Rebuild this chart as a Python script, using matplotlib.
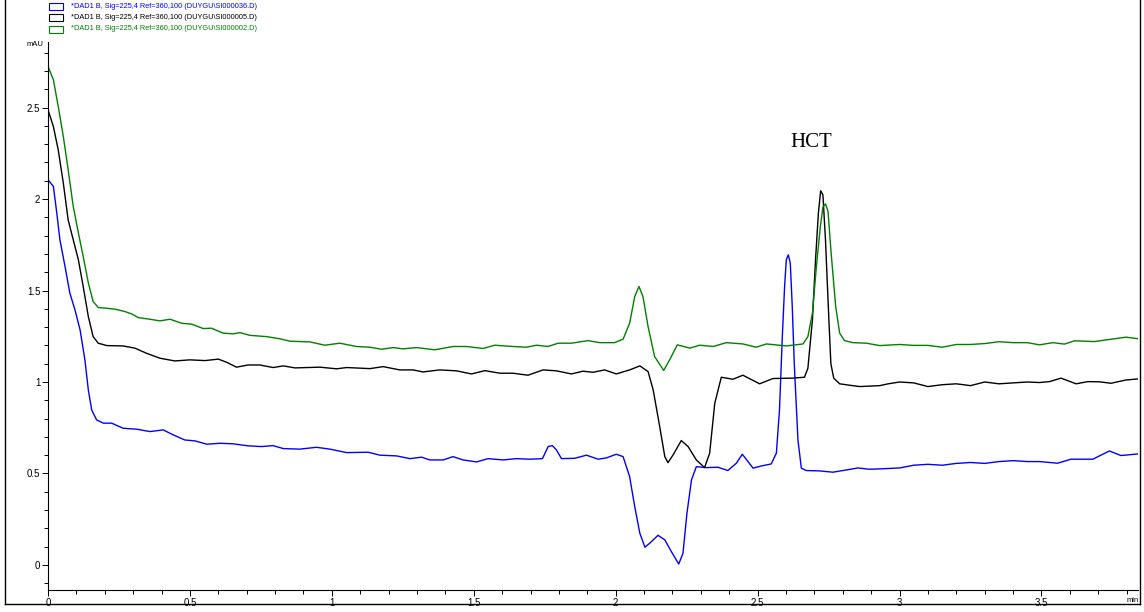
import numpy as np
import matplotlib
matplotlib.use('Agg')
import matplotlib.pyplot as plt
from matplotlib.lines import Line2D
from matplotlib.patches import Rectangle

# chromatogram traces: (time min, signal mAU)
blue_trace = [
    (0.000, 2.105), (0.019, 2.069), (0.031, 1.923), (0.042, 1.777), (0.060, 1.631),
    (0.077, 1.486), (0.095, 1.394), (0.113, 1.285), (0.130, 1.121), (0.142, 0.957),
    (0.154, 0.847), (0.171, 0.793), (0.195, 0.775), (0.224, 0.775), (0.265, 0.747),
    (0.312, 0.742), (0.359, 0.729), (0.406, 0.738), (0.441, 0.711), (0.482, 0.683),
    (0.518, 0.678), (0.559, 0.660), (0.606, 0.665), (0.652, 0.662), (0.705, 0.651),
    (0.752, 0.647), (0.793, 0.652), (0.829, 0.636), (0.887, 0.633), (0.946, 0.643),
    (0.993, 0.633), (1.052, 0.614), (1.128, 0.616), (1.169, 0.600), (1.228, 0.596),
    (1.275, 0.581), (1.316, 0.589), (1.345, 0.574), (1.392, 0.574), (1.427, 0.592),
    (1.462, 0.574), (1.510, 0.563), (1.550, 0.581), (1.603, 0.574), (1.650, 0.581),
    (1.697, 0.578), (1.742, 0.581), (1.762, 0.647), (1.777, 0.652), (1.791, 0.629),
    (1.809, 0.581), (1.856, 0.583), (1.897, 0.600), (1.938, 0.578), (1.967, 0.585),
    (2.002, 0.605), (2.026, 0.592), (2.049, 0.483), (2.067, 0.319), (2.085, 0.173),
    (2.103, 0.097), (2.120, 0.119), (2.149, 0.162), (2.173, 0.137), (2.196, 0.073),
    (2.222, 0.005), (2.237, 0.064), (2.251, 0.283), (2.267, 0.465), (2.284, 0.537),
    (2.319, 0.532), (2.360, 0.534), (2.395, 0.516), (2.425, 0.556), (2.446, 0.605),
    (2.466, 0.565), (2.484, 0.529), (2.513, 0.541), (2.548, 0.552), (2.566, 0.611),
    (2.577, 0.847), (2.587, 1.250), (2.595, 1.522), (2.601, 1.668), (2.608, 1.695),
    (2.615, 1.650), (2.622, 1.412), (2.629, 1.103), (2.642, 0.683), (2.654, 0.529),
    (2.671, 0.516), (2.718, 0.514), (2.765, 0.507), (2.812, 0.519), (2.853, 0.530),
    (2.894, 0.523), (2.930, 0.525), (3.000, 0.530), (3.050, 0.545), (3.100, 0.550),
    (3.150, 0.545), (3.200, 0.555), (3.250, 0.560), (3.300, 0.555), (3.350, 0.565),
    (3.400, 0.570), (3.450, 0.565), (3.493, 0.565), (3.557, 0.556), (3.604, 0.578),
    (3.681, 0.578), (3.739, 0.623), (3.780, 0.598), (3.842, 0.607),
]

black_trace = [
    (0.000, 2.488), (0.019, 2.396), (0.036, 2.269), (0.054, 2.087), (0.071, 1.886),
    (0.089, 1.777), (0.107, 1.668), (0.124, 1.522), (0.142, 1.358), (0.159, 1.248),
    (0.177, 1.212), (0.207, 1.199), (0.265, 1.197), (0.306, 1.185), (0.347, 1.157),
    (0.394, 1.130), (0.447, 1.115), (0.500, 1.121), (0.553, 1.117), (0.600, 1.125),
    (0.629, 1.108), (0.664, 1.081), (0.705, 1.093), (0.746, 1.093), (0.793, 1.079),
    (0.829, 1.088), (0.870, 1.077), (0.958, 1.081), (1.017, 1.072), (1.052, 1.079),
    (1.134, 1.073), (1.181, 1.084), (1.239, 1.066), (1.286, 1.066), (1.321, 1.055),
    (1.380, 1.066), (1.439, 1.061), (1.492, 1.044), (1.539, 1.062), (1.592, 1.048),
    (1.638, 1.048), (1.691, 1.037), (1.744, 1.066), (1.791, 1.061), (1.844, 1.044),
    (1.885, 1.059), (1.920, 1.053), (1.961, 1.066), (2.002, 1.044), (2.049, 1.066),
    (2.085, 1.088), (2.114, 1.057), (2.132, 0.957), (2.155, 0.756), (2.173, 0.592),
    (2.184, 0.559), (2.202, 0.601), (2.231, 0.680), (2.255, 0.647), (2.284, 0.574),
    (2.313, 0.532), (2.331, 0.611), (2.349, 0.884), (2.372, 1.026), (2.413, 1.015),
    (2.448, 1.037), (2.507, 0.990), (2.554, 1.019), (2.624, 1.021), (2.665, 1.026),
    (2.677, 1.075), (2.693, 1.340), (2.704, 1.668), (2.714, 1.923), (2.722, 2.045),
    (2.730, 2.023), (2.739, 1.777), (2.751, 1.340), (2.758, 1.100), (2.768, 1.021),
    (2.789, 0.990), (2.825, 0.982), (2.860, 0.975), (2.930, 0.980), (2.960, 0.990),
    (3.000, 1.000), (3.050, 0.995), (3.100, 0.975), (3.150, 0.985), (3.200, 0.990),
    (3.250, 0.980), (3.300, 1.000), (3.350, 0.990), (3.400, 0.995), (3.450, 1.000),
    (3.493, 0.997), (3.528, 1.002), (3.569, 1.021), (3.622, 0.990), (3.663, 1.002),
    (3.704, 1.001), (3.745, 0.993), (3.798, 1.011), (3.842, 1.017),
]

green_trace = [
    (0.000, 2.725), (0.019, 2.652), (0.036, 2.506), (0.054, 2.342), (0.071, 2.160),
    (0.089, 1.959), (0.107, 1.815), (0.124, 1.686), (0.142, 1.542), (0.159, 1.440),
    (0.177, 1.407), (0.207, 1.403), (0.236, 1.398), (0.271, 1.385), (0.295, 1.372),
    (0.318, 1.352), (0.359, 1.343), (0.394, 1.334), (0.430, 1.343), (0.471, 1.321),
    (0.506, 1.316), (0.547, 1.292), (0.576, 1.294), (0.617, 1.267), (0.653, 1.263),
    (0.676, 1.270), (0.711, 1.255), (0.770, 1.248), (0.817, 1.236), (0.852, 1.223),
    (0.923, 1.219), (0.975, 1.201), (1.028, 1.212), (1.087, 1.194), (1.134, 1.190),
    (1.175, 1.179), (1.216, 1.188), (1.251, 1.181), (1.298, 1.188), (1.363, 1.176),
    (1.427, 1.194), (1.474, 1.194), (1.533, 1.183), (1.574, 1.201), (1.638, 1.194),
    (1.686, 1.190), (1.721, 1.201), (1.762, 1.194), (1.797, 1.212), (1.844, 1.212),
    (1.902, 1.226), (1.944, 1.215), (1.996, 1.215), (2.026, 1.234), (2.049, 1.321),
    (2.067, 1.467), (2.082, 1.522), (2.096, 1.467), (2.114, 1.303), (2.137, 1.139),
    (2.169, 1.063), (2.190, 1.121), (2.217, 1.203), (2.261, 1.185), (2.296, 1.201),
    (2.343, 1.194), (2.390, 1.215), (2.448, 1.208), (2.495, 1.190), (2.531, 1.208),
    (2.601, 1.197), (2.660, 1.208), (2.677, 1.248), (2.693, 1.376), (2.707, 1.631),
    (2.721, 1.850), (2.730, 1.956), (2.739, 1.974), (2.748, 1.932), (2.759, 1.704),
    (2.775, 1.412), (2.789, 1.267), (2.806, 1.226), (2.836, 1.215), (2.883, 1.212),
    (2.930, 1.199), (3.000, 1.205), (3.050, 1.200), (3.100, 1.200), (3.150, 1.190),
    (3.200, 1.205), (3.250, 1.205), (3.300, 1.210), (3.350, 1.220), (3.400, 1.215),
    (3.450, 1.215), (3.493, 1.203), (3.540, 1.215), (3.581, 1.207), (3.616, 1.225),
    (3.687, 1.221), (3.728, 1.230), (3.798, 1.245), (3.842, 1.236),
]

trace_labels = [
    '*DAD1 B, Sig=225,4 Ref=360,100 (DUYGU\\SI000036.D)',
    '*DAD1 B, Sig=225,4 Ref=360,100 (DUYGU\\SI000005.D)',
    '*DAD1 B, Sig=225,4 Ref=360,100 (DUYGU\\SI000002.D)',
]
trace_colors = ['#0000ff', '#000000', '#008000']

peak_name = 'HCT'
peak_pos = (2.69, 2.31)

x_major = [0, 0.5, 1, 1.5, 2, 2.5, 3, 3.5]
x_labels = ['0', '0.5', '1', '1.5', '2', '2.5', '3', '3.5']
y_major = [0, 0.5, 1, 1.5, 2, 2.5]
y_labels = ['0', '0.5', '1', '1.5', '2', '2.5']

W, H = 1144, 612
plt.rcParams['font.family'] = ['Liberation Sans']

fig = plt.figure(figsize=(W / 100, H / 100), dpi=100)
ax = fig.add_axes([48 / W, 1 - 590 / H, (1138 - 48) / W, (590 - 41.7) / H])

for trace, color in zip([blue_trace, black_trace, green_trace], trace_colors):
    t, y = np.array(trace).T
    ax.plot(t, y, color=color, lw=1.0)

ax.set_xlim(0, 3.84)
ax.set_ylim(-0.137, 2.86)
ax.set_xticks(x_major)
ax.set_xticklabels(x_labels)
ax.set_yticks(y_major)
ax.set_yticklabels(y_labels)
ax.set_xticks(np.arange(0.1, 3.84, 0.1), minor=True)
ax.set_yticks(np.arange(-0.1, 2.86, 0.1), minor=True)
ax.tick_params(which='both', direction='out', width=0.7, labelsize=7, colors='black')
ax.tick_params(which='major', length=4, pad=1.5)
ax.tick_params(which='minor', length=3)
for side in ['top', 'right']:
    ax.spines[side].set_visible(False)
for side in ['left', 'bottom']:
    ax.spines[side].set_linewidth(0.8)

ax.text(peak_pos[0], peak_pos[1], peak_name, family='Liberation Serif',
        fontsize=15, ha='center', va='center')
fig.text(43 / W, 1 - 45 / H, 'mAU', fontsize=5.5, ha='right', va='center')
fig.text(1139 / W, 1 - 601 / H, 'min', fontsize=5.5, ha='right', va='center')

# legend in the top left corner
rows = [6.5, 17.5, 29]
for row, label, color in zip(rows, trace_labels, trace_colors):
    fig.patches.append(Rectangle((49 / W, 1 - (row + 3.5) / H), 14 / W, 7 / H,
                                 transform=fig.transFigure, fill=False,
                                 edgecolor=color, lw=0.8))
    fig.text(71 / W, 1 - row / H, label, color=color, fontsize=5.3, va='center')

# outer frame
fig.lines.append(Line2D([5 / W, 5 / W], [1, 1 - 604 / H], transform=fig.transFigure, color='black', lw=1))
fig.lines.append(Line2D([5 / W, 1140 / W], [1 - 604 / H, 1 - 604 / H], transform=fig.transFigure, color='black', lw=1))
fig.lines.append(Line2D([1140 / W, 1140 / W], [1, 1 - 604 / H], transform=fig.transFigure, color='black', lw=1))

fig.savefig('out.png', dpi=100)
